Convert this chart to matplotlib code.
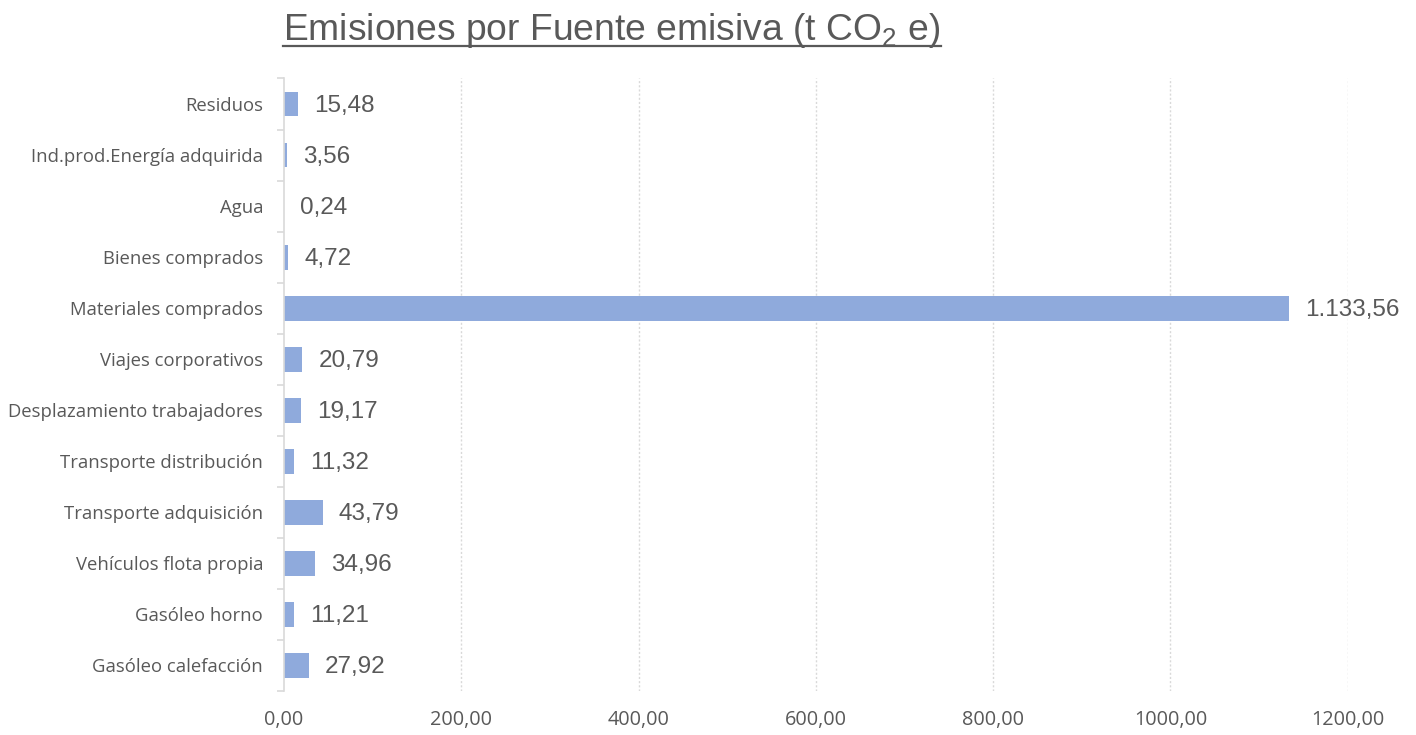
import matplotlib.pyplot as plt
from matplotlib.lines import Line2D
from matplotlib.ticker import FixedLocator, FuncFormatter

plt.rcParams['mathtext.fontset'] = 'custom'
plt.rcParams['mathtext.rm'] = 'Liberation Sans'
plt.rcParams['mathtext.it'] = 'Liberation Sans'

# emisiones por fuente, de abajo hacia arriba
fuentes = ['Gasóleo calefacción', 'Gasóleo horno', 'Vehículos flota propia',
           'Transporte adquisición', 'Transporte distribución',
           'Desplazamiento trabajadores', 'Viajes corporativos',
           'Materiales comprados', 'Bienes comprados', 'Agua',
           'Ind.prod.Energía adquirida', 'Residuos']
emisiones = [27.92, 11.21, 34.96, 43.79, 11.32, 19.17, 20.79,
             1133.56, 4.72, 0.24, 3.56, 15.48]
x_ticks = [0, 200, 400, 600, 800, 1000, 1200]

gris = '#595959'
linea = '#D9D9D9'


def fmt_es(v, miles=True):
    s = f'{v:,.2f}' if miles else f'{v:.2f}'
    return s.replace(',', 'X').replace('.', ',').replace('X', '.')


fig = plt.figure(figsize=(14.16, 7.35), dpi=100)
ax = fig.add_axes([0.2006, 0.0605, 0.7512, 0.8327])

ypos = list(range(len(fuentes)))
ax.barh(ypos, emisiones, height=0.49, color='#8FAADC', zorder=3)

for y, v in zip(ypos, emisiones):
    ax.annotate(fmt_es(v), xy=(v, y), xytext=(16, -2), textcoords='offset pixels',
                va='center', ha='left', fontsize=17.5, color=gris,
                family='Liberation Sans', zorder=4)

ax.set_xlim(0, 1200)
ax.set_ylim(-0.5, len(fuentes) - 0.5)

ax.set_yticks(ypos)
ax.set_yticklabels(fuentes, family='Open Sans', fontsize=13.3, color=gris)
ax.yaxis.set_minor_locator(FixedLocator([i - 0.5 for i in range(len(fuentes) + 1)]))
ax.tick_params(axis='y', which='major', length=0, pad=15)
ax.tick_params(axis='y', which='minor', length=5, color=linea, width=1.2)

ax.xaxis.set_major_locator(FixedLocator(x_ticks))
ax.xaxis.set_major_formatter(FuncFormatter(lambda v, p: fmt_es(v, miles=False)))
ax.tick_params(axis='x', length=0, pad=14, labelsize=14.3, labelcolor=gris)
for lbl in ax.get_xticklabels():
    lbl.set_family('Open Sans')

ax.grid(axis='x', linestyle=(0, (1.5, 1.5)), color=linea, linewidth=1, zorder=0)
ax.xaxis.get_gridlines()[0].set_visible(False)

for s in ['top', 'right', 'bottom']:
    ax.spines[s].set_visible(False)
ax.spines['left'].set_color(linea)
ax.spines['left'].set_linewidth(1.2)
ax.spines['left'].set_zorder(5)

# titulo subrayado
base_titulo = 0.946
titulo = fig.text(0.4322, base_titulo, r'Emisiones por Fuente emisiva (t CO$_2$ e)',
                  ha='center', va='baseline', fontsize=26.8, color=gris,
                  family='Liberation Sans')
fig.canvas.draw()
bb = titulo.get_window_extent().transformed(fig.transFigure.inverted())
y_sub = base_titulo - 0.009
fig.add_artist(Line2D([bb.x0, bb.x1], [y_sub, y_sub], transform=fig.transFigure,
                      color=gris, linewidth=1.6))

fig.savefig('out.png', dpi=100)
